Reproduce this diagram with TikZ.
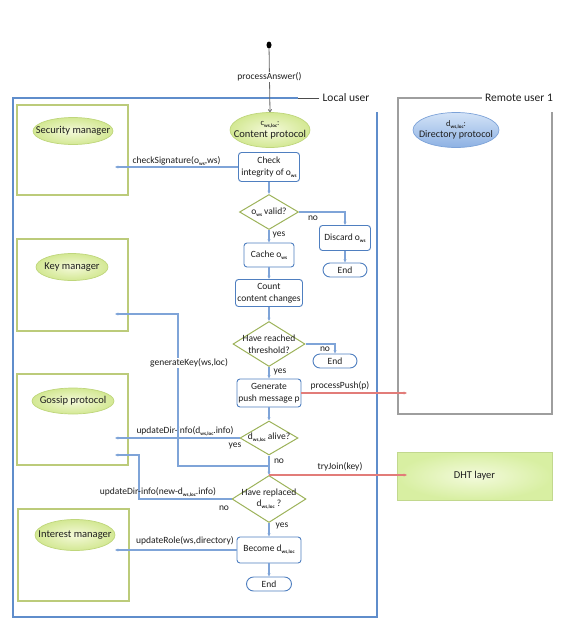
\documentclass[tikz,border=0pt]{standalone}
\usepackage{fontspec}
\setmainfont{Carlito}
\usetikzlibrary{shapes.geometric,arrows.meta}
\definecolor{txt}{HTML}{1E1E1E}
\definecolor{boxblue}{HTML}{4F7FC0}
\definecolor{lineblue}{HTML}{7FA4D8}
\definecolor{framblue}{HTML}{5F8DCB}
\definecolor{diagreen}{HTML}{9DB35A}
\definecolor{gboxc}{HTML}{BCCB7A}
\definecolor{ellbord}{HTML}{BFD67C}
\definecolor{elltop}{HTML}{F4F9D9}
\definecolor{ellbot}{HTML}{D3E893}
\definecolor{blutop}{HTML}{D3E3F7}
\definecolor{blubot}{HTML}{8DB1E3}
\definecolor{bluebord}{HTML}{7CA2D8}
\definecolor{redline}{HTML}{E27C79}
\definecolor{grayfr}{HTML}{9E9E9E}
\definecolor{dhttop}{HTML}{F3FADC}
\definecolor{dhtbot}{HTML}{D8EFA2}
\definecolor{dhtbord}{HTML}{C2D88E}
\newcommand\sbs[1]{\raisebox{-0.45ex}{\fontsize{5}{5}\selectfont\bfseries #1}}
\tikzset{
  flow/.style={draw=boxblue, line width=0.9pt, rounded corners=3pt, fill=white, align=center, inner sep=1pt},
  term/.style={draw=boxblue, line width=0.9pt, rounded corners=7pt, fill=white, minimum width=44pt, minimum height=14pt, inner sep=0pt},
  dia/.style={diamond, draw=diagreen, line width=1pt, inner sep=0pt, fill=white},
  gbox/.style={draw=gboxc, line width=1.1pt, inner sep=0pt},
  gell/.style={ellipse, draw=ellbord, line width=0.7pt, inner color=elltop, outer color=ellbot, inner sep=0pt},
  bell/.style={ellipse, draw=bluebord, line width=0.7pt, top color=blutop, bottom color=blubot, inner sep=0pt},
  title/.style={font=\fontsize{10.5}{12}\selectfont, align=center},
  frlabel/.style={font=\fontsize{11.5}{13}\selectfont, inner sep=3pt},
  lframe/.style={draw=framblue, line width=1.2pt},
  rframe/.style={draw=grayfr, line width=1.2pt},
  bline/.style={draw=lineblue, line width=1.1pt, -{Stealth[length=3.4pt,width=3pt]}},
  rline/.style={draw=redline, line width=1.1pt, -{Stealth[length=3.4pt,width=3pt]}},
  lbl/.style={inner sep=1pt},
  wlbl/.style={inner sep=1pt, fill=white},
}
\begin{document}
\begin{tikzpicture}[x=1pt,y=-1pt,font=\fontsize{9.5}{11.5}\selectfont,text=txt]
\useasboundingbox (0,0) rectangle (571,630);

% frames
\node[frlabel] (lul) at (346,98) {Local user};
\draw[draw=black!70, line width=0.9pt] (lul.west) -- (298,98);
\draw[lframe] (298,98) -- (13,98) -- (13,617) -- (377,617) -- (377,112);
\node[frlabel] (rul) at (519,98) {Remote user 1};
\draw[rframe] (rul.west) -- (398,98) -- (398,414) -- (552,414) -- (552,112);

% remote user content
\node[bell, minimum width=86pt, minimum height=35pt,
  label={[title, font=\fontsize{10}{11.5}\selectfont]center:{{\fontsize{8.5}{8.5}\selectfont d\sbs{ws,loc}:}\\Directory protocol}}] (dp) at (456,130) {};
\node[draw=dhtbord, line width=1pt, inner color=dhttop, outer color=dhtbot,
  minimum width=155pt, minimum height=48pt, font=\fontsize{10.5}{12}\selectfont] (dht) at (474.5,476) {DHT layer};

% green component boxes
\node[gbox, minimum width=111pt, minimum height=90pt] (smbox) at (72.5,150) {};
\node[gell, minimum width=80pt, minimum height=27pt, label={[title]center:Security manager}] (sm) at (73,131) {};
\node[gbox, minimum width=111pt, minimum height=92pt] (kmbox) at (72.5,285) {};
\node[gell, minimum width=72pt, minimum height=27pt, label={[title]center:Key manager}] (km) at (72,267) {};
\node[gbox, minimum width=111pt, minimum height=91pt] (gpbox) at (72.5,419.5) {};
\node[gell, minimum width=82pt, minimum height=26pt, label={[title]center:Gossip protocol}] (gp) at (73,401) {};
\node[gbox, minimum width=111pt, minimum height=92pt] (imbox) at (73.5,555) {};
\node[gell, minimum width=80pt, minimum height=31pt, label={[title]center:Interest manager}] (im) at (75,535) {};

% content protocol
\node[gell, minimum width=80pt, minimum height=35pt,
  label={[title]center:{{\fontsize{8.5}{8.5}\selectfont c\sbs{ws,loc}:}\\Content protocol}}] (cp) at (270,130) {};
\node[ellipse, fill=black, inner sep=0pt, minimum width=5pt, minimum height=7pt] (start) at (269,45) {};

% flow nodes
\node[flow, minimum width=61pt, minimum height=29pt] (chk) at (269,167) {Check\\integrity of o\sbs{ws}};
\node[dia, minimum width=59pt, minimum height=35pt, label={[align=center]center:{o\sbs{ws} valid?}}] (d1) at (269,212) {};
\node[flow, minimum width=51pt, minimum height=25pt] (disc) at (345,238) {Discard o\sbs{ws}};
\node[term] (end1) at (345,270) {End};
\node[flow, minimum width=50pt, minimum height=24pt] (cache) at (269,255) {Cache o\sbs{ws}};
\node[flow, minimum width=67pt, minimum height=27pt] (count) at (269,293) {Count\\content changes};
\node[dia, minimum width=72pt, minimum height=45pt, label={[align=center]center:{Have reached\\threshold?}}] (d2) at (269,344) {};
\node[term] (end2) at (335,361) {End};
\node[flow, minimum width=64pt, minimum height=28pt] (gen) at (269,393) {Generate\\push message p};
\node[dia, minimum width=58pt, minimum height=34pt, label={[align=center]center:{d\sbs{ws,loc} alive?}}] (d3) at (269,438) {};
\node[dia, minimum width=74pt, minimum height=47pt, label={[align=center]center:{Have replaced\\d\sbs{ws,loc} ?}}] (d4) at (269,499) {};
\node[flow, minimum width=64pt, minimum height=26pt] (bec) at (269,550) {Become d\sbs{ws,loc}};
\node[term, minimum width=45pt] (end3) at (269,584) {End};

% free ends
\coordinate (smin) at (115,167);
\coordinate (kmin) at (115,314);
\coordinate (gpin1) at (115,438);
\coordinate (gpin2) at (115,455);
\coordinate (imin) at (115,550);
\coordinate (rpin) at (407,393);
\coordinate (dhtin) at (407,475);
\coordinate (j1) at (269,466);
\coordinate (j2) at (269,475);

% connectors
\draw[draw=black!60, line width=0.8pt, -{To[length=3pt,width=4pt]}] (start) -- node[wlbl, pos=0.45] (pa) {processAnswer()} (cp.north);
\draw[bline] (chk.west) -- node[lbl, above, pos=0.5] (cs) {checkSignature(o\sbs{ws},ws)} (smin);
\draw[bline] (chk.south) -- (d1.north);
\draw[bline] (d1.east) -| (disc.north);
\node[lbl] (no1) at (313,218) {no};
\draw[bline] (disc.south) -- (end1.north);
\draw[bline] (d1.south) -- (cache.north);
\node[lbl] (yes1) at (279,235) {yes};
\draw[bline] (cache.south) -- (count.north);
\draw[bline] (count.south) -- (d2.north);
\draw[bline] (d2.east) -| (end2.north);
\node[lbl] (no2) at (325,349) {no};
\draw[bline] (d2.south) -- (gen.north);
\node[lbl] (yes2) at (280,372) {yes};
\draw[rline] (gen.east) -- (rpin);
\node[lbl] (pp) at (340,386) {processPush(p)};
\draw[bline] (gen.south) -- (d3.north);
\draw[bline] (d3.west) -- (gpin1);
\node[lbl] (ud1) at (185,431) {updateDir-info(d\sbs{ws,loc}.info)};
\node[lbl] (yes3) at (235,446) {yes};
\draw[bline] (d3.south) -- (d4.north);
\node[lbl] (no3) at (279,461) {no};
\draw[bline] (j1) -- (178,466) -- (178,314) -- (kmin);
\node[wlbl] (gk) at (189,363) {generateKey(ws,loc)};
\draw[rline] (j2) -- (dhtin);
\node[lbl] (tj) at (340,467) {tryJoin(key)};
\draw[bline] (d4.west) -- (139,499) -- (139,455) -- (gpin2);
\node[lbl] (ud2) at (158,492) {updateDir-info(new-d\sbs{ws,loc}.info)};
\node[lbl] (no4) at (224,508) {no};
\draw[bline] (d4.south) -- (bec.north);
\node[lbl] (yes4) at (282,526) {yes};
\draw[bline] (bec.west) -- (imin);
\node[lbl] (ur) at (185,541) {updateRole(ws,directory)};
\draw[bline] (bec.south) -- (end3.north);
\end{tikzpicture}
\end{document}
